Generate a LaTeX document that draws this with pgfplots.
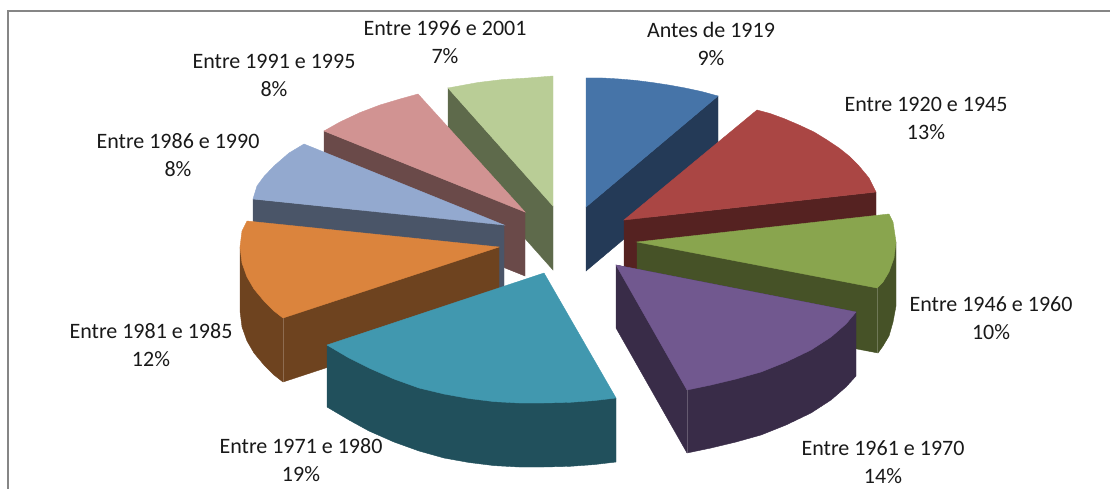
\documentclass[border=0pt]{standalone}
\usepackage{pgfplots}
\pgfplotsset{compat=1.18}
\usepackage{fontspec}
\setmainfont{Carlito}
\definecolor{t1}{HTML}{4674A8}\definecolor{s1}{HTML}{243A57}
\definecolor{t2}{HTML}{AA4644}\definecolor{s2}{HTML}{552221}
\definecolor{t3}{HTML}{89A54E}\definecolor{s3}{HTML}{465227}
\definecolor{t4}{HTML}{71588F}\definecolor{s4}{HTML}{392C48}
\definecolor{t5}{HTML}{4198AF}\definecolor{s5}{HTML}{21505C}
\definecolor{t6}{HTML}{DB843D}\definecolor{s6}{HTML}{6E431F}
\definecolor{t7}{HTML}{93A9CF}\definecolor{s7}{HTML}{4A5568}
\definecolor{t8}{HTML}{D19392}\definecolor{s8}{HTML}{6A4A49}
\definecolor{t9}{HTML}{B9CD96}\definecolor{s9}{HTML}{5E6A4B}
\definecolor{fr}{HTML}{868686}
\tikzset{lbl/.style={font=\fontsize{22}{28}\selectfont,align=center,text=black!90,inner sep=0pt}}
\begin{document}
\begin{tikzpicture}[x=1pt,y=1pt]
\useasboundingbox (0,0) rectangle (1110pt,489pt);
\begin{axis}[scale only axis,width=1110pt,height=489pt,xmin=0,xmax=1110,ymin=0,ymax=489,y dir=reverse,
  axis lines=none,clip=true]
\addplot[draw=fr,line width=2pt] coordinates {(8,489)(8,11)(1110,11)};
% light green (1996-2001)
\addplot[fill=s9,draw=s9] coordinates {(448,88)(553,206)(553,270)(448,152)} --cycle;
\addplot[fill=t9,draw=t9,line width=.4pt] coordinates {(553,206)(448,88)(478,82.5)(503,79.5)(528,78)(553,76)} --cycle;
% pink (1991-1995)
\addplot[fill=s8,draw=s8] coordinates {(324,131)(525,212)(525,276)(324,195)} --cycle;
\addplot[fill=t8,draw=t8,line width=.4pt] coordinates {(525,212)(324,131)(340,122)(360,112.6)(380,105)(400,99)(418,94)} --cycle;
% light blue (1986-1990)
\addplot[fill=s7,draw=s7] coordinates {(253,199)(504,225)(504,289)(253,263)} --cycle;
\addplot[fill=t7,draw=t7,line width=.4pt] coordinates {(504,225)(253,199)(257,186)(264,176.5)(274,166)(289,153)(304,144)} --cycle;
% orange (1981-1985)
\addplot[fill=s6,draw=s6] coordinates {(240,247)(499,247)(499,311)(283,382)(274,375)(264,365)(254,353)(247,341)(242,327)(240,311)} --cycle;
\addplot[fill=t6,draw=t6,line width=.4pt] coordinates {(499,247)(283,318)(274,311)(264,301)(254,289)(247,277)(242,263)(240,247)(242,231)(247,221)} --cycle;
\addplot[draw=white!22!s6,line width=.5pt] coordinates {(283,318)(283,382)};
% blue (before 1919)
\addplot[fill=s1,draw=s1] coordinates {(586,207)(718,96)(718,160)(586,271)} --cycle;
\addplot[fill=t1,draw=t1,line width=.4pt] coordinates {(586,207)(586,78)(602.5,78)(619,79)(635.5,80.4)(652,82.5)(668.5,85)(685,88)(701,91.4)(718,96)} --cycle;
% red (1920-1945)
\addplot[fill=s2,draw=s2] coordinates {(624,220)(876,192)(876,256)(624,284)} --cycle;
\addplot[fill=t2,draw=t2,line width=.4pt] coordinates {(624,220)(757,110)(770,113.5)(784,118.6)(799,125)(814,132)(827,140)(839,148)(849,156)(859,166)(869,178)(876,192)} --cycle;
% green (1946-1960)
\addplot[fill=s3,draw=s3] coordinates {(637,242)(896,242)(896,306)(893,322)(889,336)(883,346)(878,353)(637,307)} --cycle;
\addplot[fill=t3,draw=t3,line width=.4pt] coordinates {(637,242)(889,214)(893,222)(896,242)(894,258)(889,272)(883,282)(877,288)} --cycle;
\addplot[draw=white!22!s3,line width=.5pt] coordinates {(877.5,288)(877.5,353)};
% purple (1961-1970)
\addplot[fill=s4,draw=s4] coordinates {(616,265)(856,312)(856,376)(846,387)(831,400)(811,413)(786,425)(761,435)(736,442)(711,448)(687,453)(616,328)} --cycle;
\addplot[fill=t4,draw=t4,line width=.4pt] coordinates {(616,265)(856,312)(846,324)(831,337)(811,350)(786,362)(761,372)(736,379)(711,385)(687,390)} --cycle;
\addplot[draw=white!22!s4,line width=.5pt] coordinates {(687,390)(687,453)};
% teal (1971-1980)
\addplot[fill=s5,draw=s5] coordinates {(327,345)(616,398)(616,462)(594,464.6)(569,466.4)(544,467)(519,467)(494,465.6)(469,462.5)(444,458)(419,451)(394,442)(369,431)(349,420)(327,407)} --cycle;
\addplot[fill=t5,draw=t5,line width=.4pt] coordinates {(544,273)(616,398)(594,400.6)(569,402.4)(544,403)(519,403)(494,401.6)(469,398.5)(444,394)(419,388)(394,379)(369,368)(349,358)(327,345)} --cycle;
\node[lbl] at (axis cs:711,44) {Antes de 1919\\9\%};
\node[lbl] at (axis cs:926,118) {Entre 1920 e 1945\\13\%};
\node[lbl] at (axis cs:991,318) {Entre 1946 e 1960\\10\%};
\node[lbl] at (axis cs:883,462) {Entre 1961 e 1970\\14\%};
\node[lbl] at (axis cs:301,460) {Entre 1971 e 1980\\19\%};
\node[lbl] at (axis cs:151,345) {Entre 1981 e 1985\\12\%};
\node[lbl] at (axis cs:178,155) {Entre 1986 e 1990\\8\%};
\node[lbl] at (axis cs:274,75) {Entre 1991 e 1995\\8\%};
\node[lbl] at (axis cs:445,42) {Entre 1996 e 2001\\7\%};
\end{axis}
\end{tikzpicture}
\end{document}
